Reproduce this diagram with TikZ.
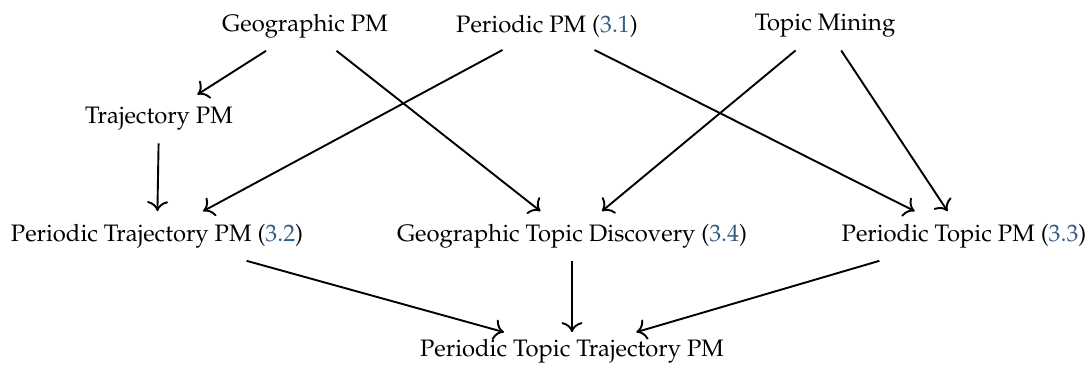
\documentclass[tikz,border=0pt]{standalone}
\usepackage[T1]{fontenc}
\usepackage{mathpazo}
\usepackage{xcolor}
\usepackage{tikz}
\usetikzlibrary{arrows.meta}
\usetikzlibrary{positioning}

\definecolor{refblue}{RGB}{52,92,132}
\newcommand{\secref}[1]{(\textcolor{refblue}{#1})}

\begin{document}
\begin{tikzpicture}[x=0.42pt,y=-0.42pt,-{To[scale=1.25]},auto,thick]
	\tikzstyle{every node}=[inner xsep=2pt, inner ysep=5pt]
	\useasboundingbox (0,0) rectangle (1089,364);
	% sources
	\node (geo) at (305,26) {Geographic PM};
	\node (per) at (547,26) {Periodic PM \secref{3.1}};
	\node (topic) at (825,26) {Topic Mining};
	\node (traj) at (159,119) {Trajectory PM};
	% combined
	\node (pertraj) at (157,236) {Periodic Trajectory PM \secref{3.2}};
	\node (geotopic) at (572,236) {Geographic Topic Discovery \secref{3.4}};
	\node (pertopic) at (964,236) {Periodic Topic PM \secref{3.3}};
	\node[inner ysep=2.5pt] (all) at (572,351) {Periodic Topic Trajectory PM};

	\path
		(geo) edge (traj)
		(geo) edge (geotopic)
		(per) edge (pertraj)
		(per) edge (pertopic)
		(topic) edge (geotopic)
		(topic) edge (pertopic)
		(traj) edge (pertraj)
		(pertraj) edge (all)
		(geotopic) edge (all)
		(pertopic) edge (all);
\end{tikzpicture}
\end{document}
